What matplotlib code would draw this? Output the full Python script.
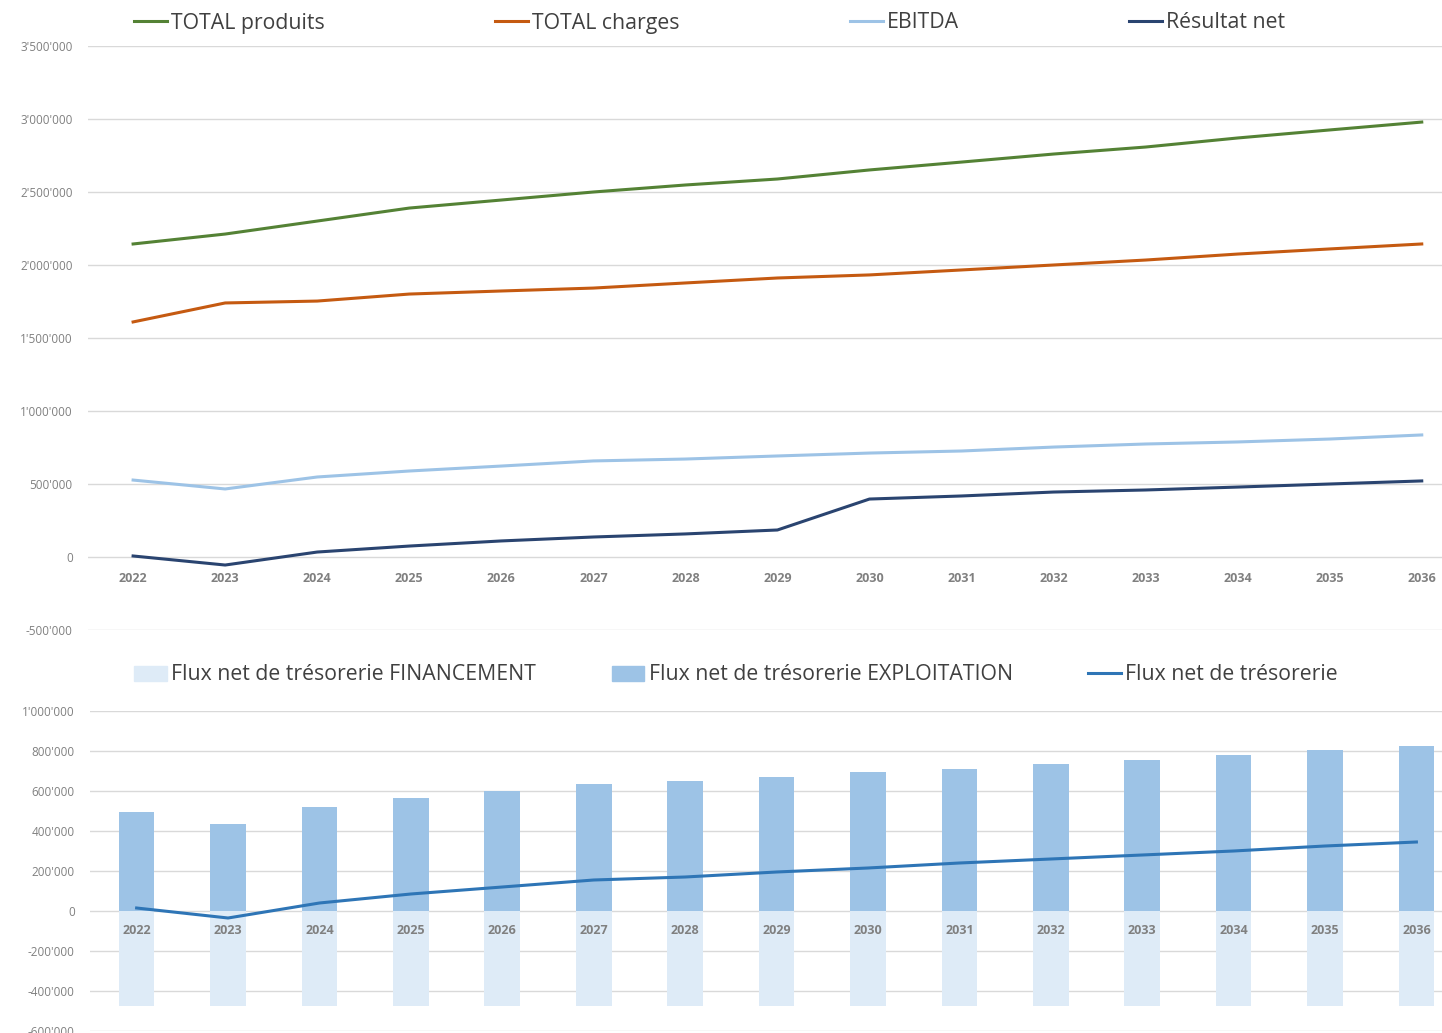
import matplotlib
matplotlib.use("Agg")
import matplotlib.pyplot as plt
from matplotlib.ticker import FuncFormatter
from matplotlib.lines import Line2D
from matplotlib.patches import Patch

plt.rcParams['font.family'] = ['Open Sans', 'DejaVu Sans']

years = [str(y) for y in range(2022, 2037)]

total_produits = [2144000, 2212000, 2301000, 2390000, 2445000, 2500000, 2548000, 2589000,
                  2651000, 2705000, 2760000, 2808000, 2870000, 2925000, 2979000]
total_charges = [1610000, 1740000, 1753000, 1801000, 1822000, 1842000, 1877000, 1911000,
                 1932000, 1966000, 2000000, 2034000, 2075000, 2110000, 2144000]
ebitda = [527000, 466000, 548000, 589000, 623000, 658000, 671000, 692000,
          712000, 726000, 753000, 774000, 788000, 808000, 836000]
resultat_net = [7000, -55000, 34000, 75000, 110000, 137000, 158000, 185000,
                397000, 418000, 445000, 459000, 479000, 500000, 521000]

flux_exploitation = [495000, 435000, 520000, 565000, 600000, 635000, 650000, 670000,
                     695000, 710000, 735000, 755000, 780000, 805000, 825000]
flux_financement = [-475000, -475000, -475000, -475000, -475000, -475000, -475000, -475000,
                    -475000, -475000, -475000, -475000, -475000, -475000, -475000]
flux_net = [15000, -35000, 40000, 85000, 120000, 155000, 170000, 195000,
            215000, 240000, 260000, 280000, 300000, 325000, 345000]

W, H = 1442, 1033
fig = plt.figure(figsize=(W / 100, H / 100), dpi=100)

def fmt(v, pos):
    if v == 0:
        return "0"
    s = f"{abs(int(round(v))):,}".replace(",", "'")
    return ("-" if v < 0 else "") + s

def axes_px(left, top, right, bottom):
    return fig.add_axes([left / W, 1 - bottom / H, (right - left) / W, (bottom - top) / H])

grid_c = "#d9d9d9"
tick_c = "#808080"

def style(ax, xpad):
    for s in ax.spines.values():
        s.set_visible(False)
    ax.spines['bottom'].set_position(('data', 0))
    ax.yaxis.grid(True, color=grid_c, linewidth=1.0)
    ax.set_axisbelow(True)
    ax.xaxis.set_zorder(4)
    ax.tick_params(axis='y', length=0, labelsize=8.5, labelcolor=tick_c, pad=11)
    ax.tick_params(axis='x', length=0, labelsize=9, labelcolor=tick_c, pad=xpad)
    ax.yaxis.set_major_formatter(FuncFormatter(fmt))
    for lab in ax.get_xticklabels():
        lab.set_fontweight('bold')

x = list(range(len(years)))

# Top chart
ax1 = axes_px(88, 46, 1442, 630)
c_prod, c_char, c_ebit, c_res = "#548235", "#C55A11", "#9DC3E6", "#2A4470"
ax1.plot(x, total_produits, color=c_prod, lw=2.2)
ax1.plot(x, total_charges, color=c_char, lw=2.2)
ax1.plot(x, ebitda, color=c_ebit, lw=2.2)
ax1.plot(x, resultat_net, color=c_res, lw=2.2)
ax1.set_ylim(-500000, 3500000)
ax1.set_yticks(range(-500000, 3500001, 500000))
ax1.set_xlim(-0.49, 14.22)
ax1.set_xticks(x)
ax1.set_xticklabels(years)
style(ax1, 10.5)

fig.legend(handles=[Line2D([], [], color=c, lw=2.2) for c in (c_prod, c_char, c_ebit, c_res)],
           labels=["TOTAL produits", "TOTAL charges", "EBITDA", "Résultat net"],
           loc='center left', bbox_to_anchor=(134 / W, 1 - 23 / H), ncol=4, frameon=False,
           fontsize=15.3, labelcolor="#404040", handlelength=1.55, handletextpad=0.2,
           columnspacing=8.0, borderaxespad=0, borderpad=0)

# Bottom chart
ax2 = axes_px(90, 711, 1442, 1031)
c_fin, c_exp, c_net = "#DEEBF7", "#9DC3E6", "#2E75B6"
ax2.bar(x, flux_financement, width=0.39, color=c_fin, zorder=2)
ax2.bar(x, flux_exploitation, width=0.39, color=c_exp, zorder=2)
ax2.plot(x, flux_net, color=c_net, lw=2.2, zorder=3)
ax2.set_ylim(-600000, 1000000)
ax2.set_yticks(range(-600000, 1000001, 200000))
ax2.set_xlim(-0.51, 14.28)
ax2.set_xticks(x)
ax2.set_xticklabels(years)
style(ax2, 9.5)

fig.legend(handles=[Patch(color=c_fin), Patch(color=c_exp), Line2D([], [], color=c_net, lw=2.2)],
           labels=["Flux net de trésorerie FINANCEMENT", "Flux net de trésorerie EXPLOITATION",
                   "Flux net de trésorerie"],
           loc='center left', bbox_to_anchor=(134 / W, 1 - 675 / H), ncol=3, frameon=False,
           fontsize=15.3, labelcolor="#404040", handlelength=1.55, handleheight=0.7,
           handletextpad=0.2, columnspacing=3.55, borderaxespad=0, borderpad=0)

fig.savefig("out.png", dpi=100)
